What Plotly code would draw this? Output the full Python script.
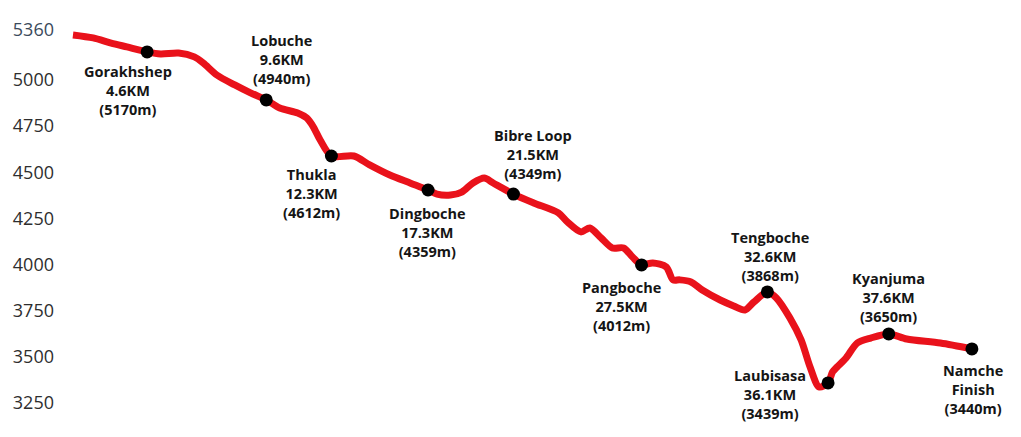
import plotly.graph_objects as go

# ───── datos ──────────────────────────────────────────────
# perfil (posición a lo largo del gráfico, altitud leída del eje)
dist = [0.0, 0.9, 1.7, 2.4, 3.3, 3.9, 4.7, 5.4, 5.8, 6.4, 7.2, 7.9, 8.6,
        9.2, 10.0, 10.4, 10.7, 11.0, 11.5, 12.5, 13.2, 14.1, 15.0, 15.8,
        16.2, 16.8, 17.3, 17.8, 18.3, 18.7, 19.6, 20.5, 21.6, 22.0, 22.6,
        23.0, 23.5, 24.0, 24.5, 24.9, 25.3, 25.8, 26.4, 26.7, 27.0, 27.5,
        28.0, 28.8, 29.4, 29.9, 30.3, 30.9, 31.3, 31.9, 32.4, 32.8, 33.2,
        33.6, 33.8, 34.0, 34.4, 34.9, 35.5, 36.3, 37.1, 38.6, 40.0]
elev = [5244, 5228, 5200, 5179, 5152, 5141, 5146, 5125, 5092, 5027, 4973,
        4930, 4892, 4848, 4821, 4794, 4745, 4675, 4588, 4588, 4540, 4485,
        4442, 4404, 4382, 4377, 4393, 4442, 4469, 4442, 4382, 4334, 4280,
        4231, 4177, 4198, 4144, 4090, 4090, 4041, 3998, 4009, 3987, 3917,
        3917, 3906, 3862, 3808, 3776, 3754, 3797, 3852, 3819, 3711, 3592,
        3445, 3337, 3359, 3418, 3445, 3494, 3575, 3602, 3624, 3597, 3575,
        3543]

# paradas
stop_dist = [3.3, 8.6, 11.5, 15.8, 19.6, 25.3, 30.9, 33.6, 36.3, 40.0]
stop_elev = [5152, 4892, 4588, 4404, 4382, 3998, 3852, 3359, 3624, 3543]
stop_name = ["Gorakhshep", "Lobuche", "Thukla", "Dingboche", "Bibre Loop",
             "Pangboche", "Tengboche", "Laubisasa", "Kyanjuma", "Namche"]
stop_km = ["4.6KM", "9.6KM", "12.3KM", "17.3KM", "21.5KM", "27.5KM",
           "32.6KM", "36.1KM", "37.6KM", "Finish"]
stop_alt = ["(5170m)", "(4940m)", "(4612m)", "(4359m)", "(4349m)",
            "(4012m)", "(3868m)", "(3439m)", "(3650m)", "(3440m)"]

# ticks del eje y
tick_vals = [5270, 5000, 4750, 4500, 4250, 4000, 3750, 3500, 3250]
tick_text = ["<span style='color:#3b4a5c'>5360</span>", "5000", "4750",
             "4500", "4250", "4000", "3750", "3500", "3250"]

# desplazamiento de etiquetas (px) respecto al marcador
lbl_dx = [-19, 15, -20, -1, 20, -20, 3, -58, 0, 1]
lbl_dy = [-39, 40, -37, -43, 40, -42, 35, -12, 36, -41]

# ───── figura ─────────────────────────────────────────────
fig = go.Figure()

fig.add_scatter(
    x=dist, y=elev, mode="lines",
    line=dict(color="#e9121b", width=7, shape="spline", smoothing=0.8),
    hoverinfo="skip", showlegend=False
)

fig.add_scatter(
    x=stop_dist, y=stop_elev, mode="markers",
    marker=dict(color="black", size=13),
    text=stop_name, hovertemplate="%{text}<extra></extra>",
    showlegend=False
)

for i in range(len(stop_name)):
    fig.add_annotation(
        x=stop_dist[i], y=stop_elev[i],
        text=f"{stop_name[i]}<br>{stop_km[i]}<br>{stop_alt[i]}",
        showarrow=False, xanchor="center", yanchor="middle",
        xshift=lbl_dx[i], yshift=lbl_dy[i],
        font=dict(family="Open Sans", size=14.5, color="#151515", weight=700),
        align="center"
    )

fig.update_xaxes(visible=False, range=[-0.31, 40.85], automargin=False)
fig.update_yaxes(
    range=[3120, 5379], tickvals=tick_vals, ticktext=tick_text,
    showgrid=False, zeroline=False, showline=False, ticks="",
    tickfont=dict(family="Open Sans", size=18, color="#2e2e2e"),
    ticklabelstandoff=11, automargin=False
)

# el body del html tiene 8px de margen -> figura algo más chica
fig.update_layout(
    width=1005, height=421,
    margin=dict(l=58, r=22, t=2, b=2),
    plot_bgcolor="white", paper_bgcolor="white"
)

fig.write_html("out.html")
